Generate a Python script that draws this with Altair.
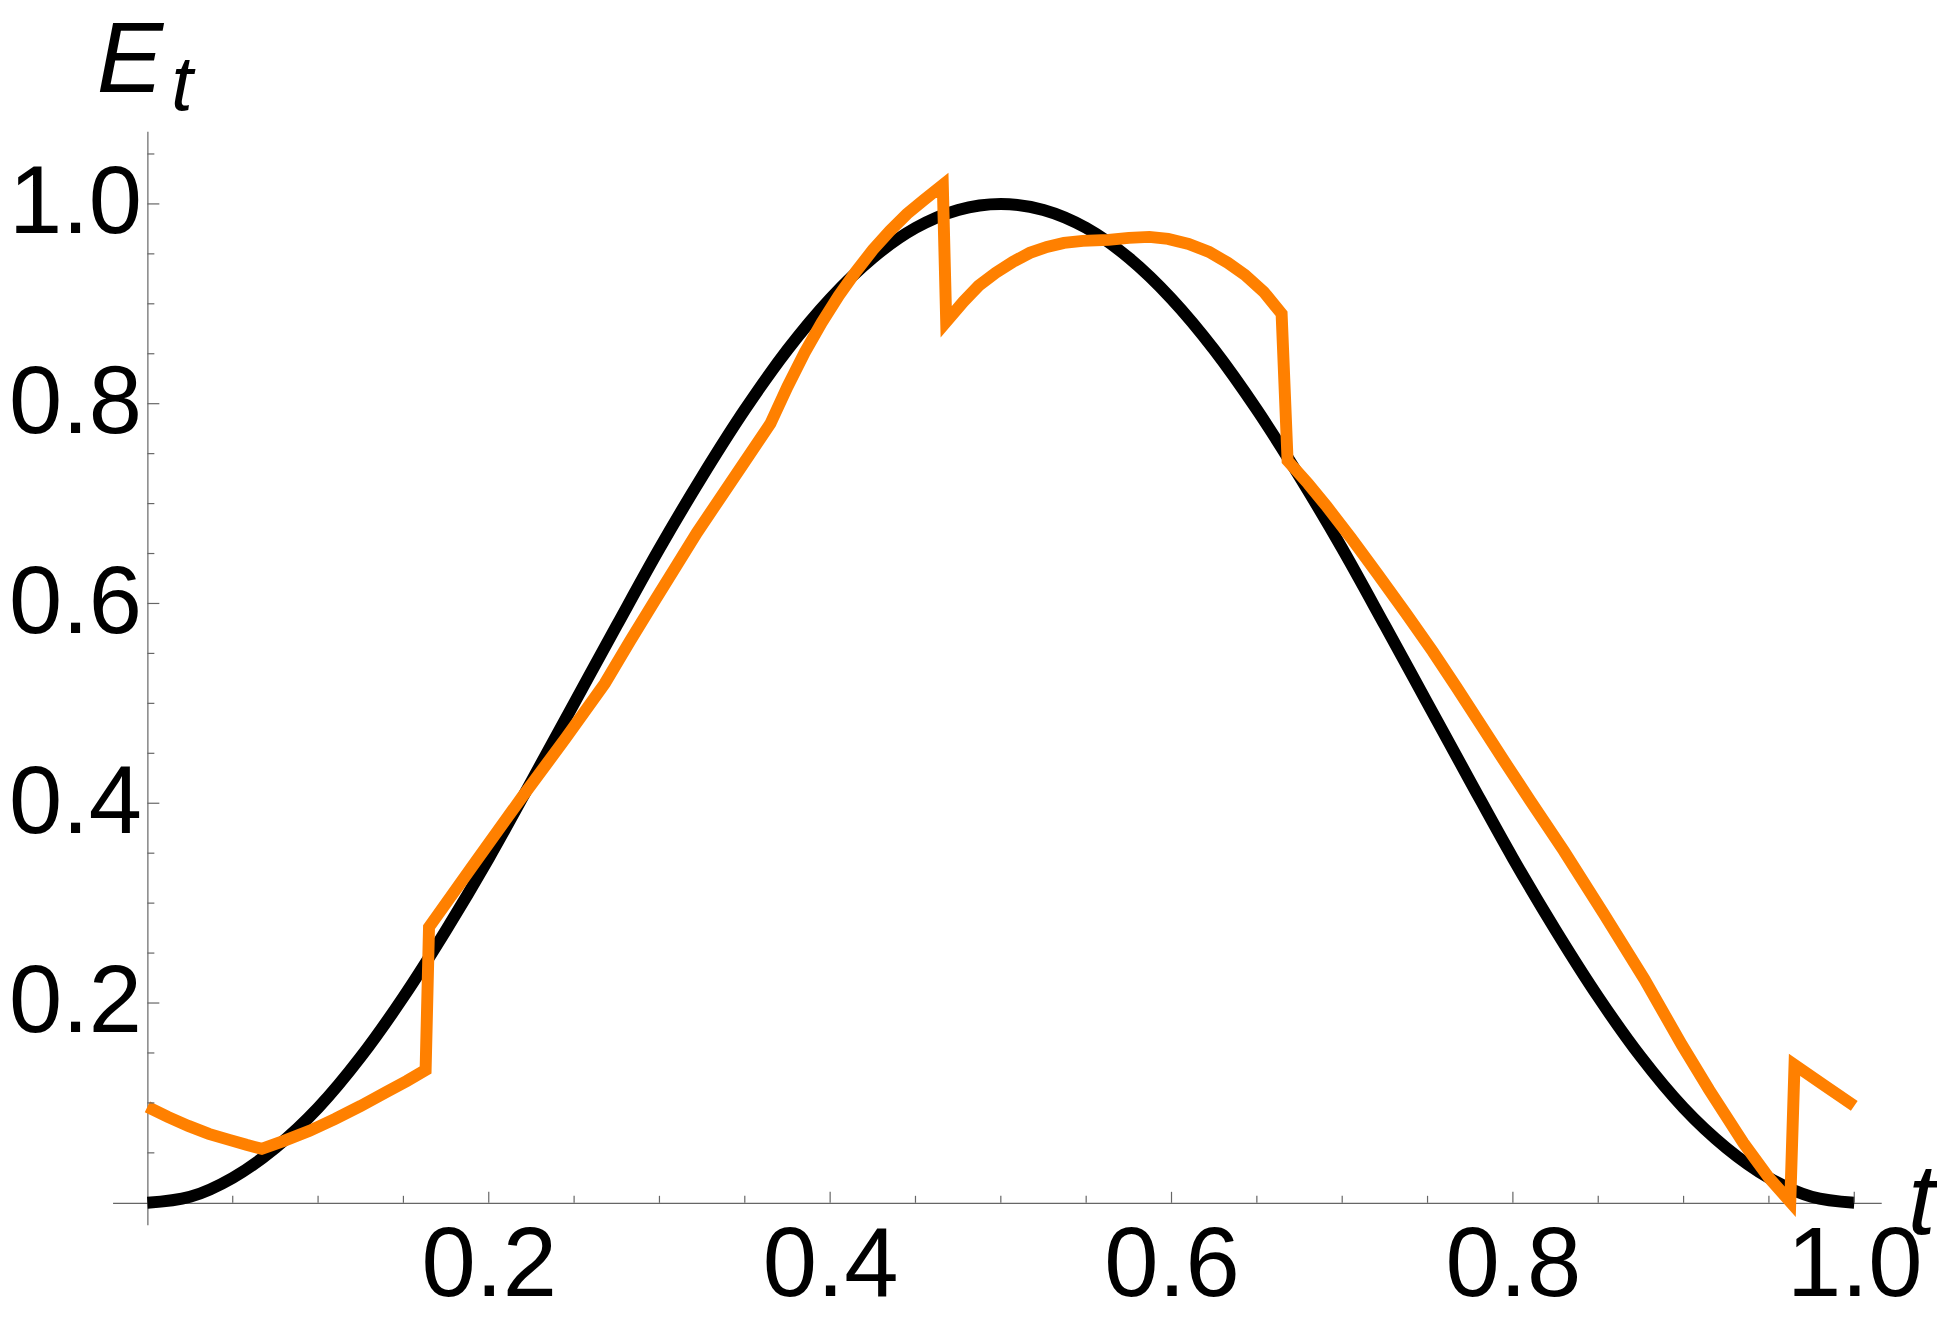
import altair as alt
import pandas as pd

# ---- data ----
t_black = [0.0, 0.025, 0.05, 0.075, 0.1, 0.125, 0.15, 0.175, 0.2, 0.225,
           0.25, 0.275, 0.3, 0.325, 0.35, 0.375, 0.4, 0.425, 0.45, 0.475,
           0.5, 0.525, 0.55, 0.575, 0.6, 0.625, 0.65, 0.675, 0.7, 0.725,
           0.75, 0.775, 0.8, 0.825, 0.85, 0.875, 0.9, 0.925, 0.95, 0.975, 1.0]
E_black = [0.0, 0.006, 0.025, 0.055, 0.095, 0.146, 0.206, 0.273, 0.345, 0.422,
           0.5, 0.578, 0.655, 0.727, 0.794, 0.854, 0.905, 0.946, 0.976, 0.994,
           1.0, 0.994, 0.976, 0.946, 0.905, 0.854, 0.794, 0.727, 0.655, 0.578,
           0.5, 0.422, 0.345, 0.273, 0.206, 0.146, 0.095, 0.055, 0.025, 0.006, 0.0]

t_orange = [0.0, 0.012, 0.024, 0.036, 0.048, 0.058, 0.067,
            0.080, 0.095, 0.110, 0.125, 0.140, 0.152, 0.163,
            0.165, 0.190, 0.219, 0.245, 0.268,
            0.283, 0.297, 0.310, 0.322, 0.335, 0.350, 0.365,
            0.375, 0.385, 0.395, 0.405, 0.415, 0.425, 0.435, 0.445, 0.455, 0.466,
            0.468, 0.478, 0.487, 0.497, 0.507, 0.517, 0.527, 0.537, 0.548, 0.563,
            0.575, 0.587, 0.598, 0.610, 0.622, 0.633, 0.643, 0.654, 0.6645,
            0.668, 0.680, 0.691, 0.705, 0.7205, 0.737, 0.753, 0.767, 0.781, 0.795,
            0.810, 0.830, 0.853, 0.877, 0.899, 0.915, 0.935, 0.950, 0.9625,
            0.965, 0.982, 1.0]
E_orange = [0.096, 0.086, 0.077, 0.069, 0.063, 0.058, 0.054,
            0.062, 0.072, 0.084, 0.097, 0.111, 0.122, 0.133,
            0.276, 0.336, 0.405, 0.465, 0.520,
            0.563, 0.602, 0.638, 0.671, 0.704, 0.742, 0.780,
            0.817, 0.851, 0.881, 0.908, 0.932, 0.954, 0.973, 0.990, 1.004, 1.019,
            0.882, 0.902, 0.918, 0.931, 0.942, 0.951, 0.957, 0.961, 0.963, 0.964,
            0.966, 0.967, 0.965, 0.960, 0.952, 0.941, 0.929, 0.912, 0.890,
            0.743, 0.720, 0.697, 0.666, 0.630, 0.591, 0.552, 0.516, 0.479, 0.442,
            0.403, 0.352, 0.290, 0.224, 0.158, 0.113, 0.060, 0.025, 0.001,
            0.138, 0.118, 0.097]

x_labels = [0.2, 0.4, 0.6, 0.8, 1.0]
x_minor = [0.05, 0.1, 0.15, 0.25, 0.3, 0.35, 0.45, 0.5, 0.55, 0.65, 0.7, 0.75,
           0.85, 0.9, 0.95]
y_labels = [0.2, 0.4, 0.6, 0.8, 1.0]
y_minor = [0.05, 0.1, 0.15, 0.25, 0.3, 0.35, 0.45, 0.5, 0.55, 0.65, 0.7, 0.75,
           0.85, 0.9, 0.95, 1.05]

# ---- layout ----
W, H = 1776, 1098
XMIN, XMAX = -0.0204, 1.0158
YMIN, YMAX = -0.0219, 1.0728
x0_px = W * (0 - XMIN) / (XMAX - XMIN)
y0_from_bottom = H * (0 - YMIN) / (YMAX - YMIN)

FONT = "Liberation Sans"
AX = "#666666"
LW = 12

xs = alt.Scale(domain=[XMIN, XMAX], nice=False, zero=False)
ys = alt.Scale(domain=[YMIN, YMAX], nice=False, zero=False)

x_axis = alt.Axis(values=x_labels, format=".1f", title=None, ticks=False, tickSize=0,
                  grid=False, domainColor=AX, domainWidth=1.2, offset=-y0_from_bottom,
                  labelFont=FONT, labelFontSize=98, labelColor="black",
                  labelPadding=16, labelOverlap=False, labelBound=False, labelFlush=False)
y_axis = alt.Axis(values=y_labels, format=".1f", title=None, ticks=False, tickSize=0,
                  grid=False, domainColor=AX, domainWidth=1.2, offset=-x0_px,
                  labelFont=FONT, labelFontSize=96, labelColor="black",
                  labelPadding=6, labelOverlap=False, labelBound=False, labelFlush=False)

black_df = pd.DataFrame({"t": t_black, "E": E_black})
orange_df = pd.DataFrame({"t": t_orange, "E": E_orange, "i": list(range(len(t_orange)))})

black = alt.Chart(black_df).mark_line(color="black", strokeWidth=LW,
                                      interpolate="monotone", strokeCap="butt").encode(
    x=alt.X("t:Q", scale=xs, axis=x_axis),
    y=alt.Y("E:Q", scale=ys, axis=y_axis),
)

orange = alt.Chart(orange_df).mark_line(color="#FF8000", strokeWidth=LW,
                                        strokeJoin="miter", strokeMiterLimit=4,
                                        strokeCap="butt").encode(
    x=alt.X("t:Q", scale=xs, axis=x_axis),
    y=alt.Y("E:Q", scale=ys, axis=y_axis),
    order="i:Q",
)

def xticks(vals, length):
    return alt.Chart(pd.DataFrame({"t": vals})).mark_rule(
        color=AX, strokeWidth=1.2, y2Offset=-length).encode(
        x=alt.X("t:Q", scale=xs, axis=x_axis),
        y=alt.YDatum(0, scale=ys, axis=y_axis),
        y2=alt.Y2Datum(0),
    )

def yticks(vals, length):
    return alt.Chart(pd.DataFrame({"E": vals})).mark_rule(
        color=AX, strokeWidth=1.2, x2Offset=length).encode(
        y=alt.Y("E:Q", scale=ys, axis=y_axis),
        x=alt.XDatum(0, scale=xs, axis=x_axis),
        x2=alt.X2Datum(0),
    )

E_txt = alt.Chart(pd.DataFrame({"s": ["E"]})).mark_text(
    font=FONT, fontSize=100, fontStyle="italic", align="left", baseline="alphabetic",
    color="black").encode(text="s:N", x=alt.value(-16), y=alt.value(-39))
Esub_txt = alt.Chart(pd.DataFrame({"s": ["t"]})).mark_text(
    font=FONT, fontSize=78, fontStyle="italic", align="left", baseline="alphabetic",
    color="black").encode(text="s:N", x=alt.value(59), y=alt.value(-21))
t_txt = alt.Chart(pd.DataFrame({"s": ["t"]})).mark_text(
    font=FONT, fontSize=100, fontStyle="italic", align="left", baseline="alphabetic",
    color="black").encode(text="s:N", x=alt.value(1803), y=alt.value(1107))

chart = alt.layer(
    black, orange,
    xticks(x_minor, 7), xticks(x_labels, 11),
    yticks(y_minor, 7), yticks(y_labels, 12),
    E_txt, Esub_txt, t_txt,
).properties(
    width=W, height=H,
    autosize=alt.AutoSizeParams(type="none"),
    padding={"left": 105, "top": 121, "right": 56, "bottom": 90},
    background="white",
).configure_view(stroke=None)

chart.save("out.html", embed_options={"renderer": "svg", "actions": False})
